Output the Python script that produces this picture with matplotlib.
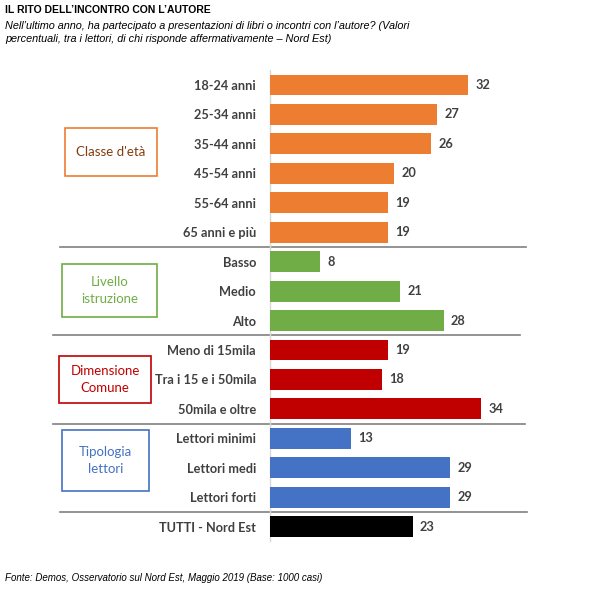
import matplotlib.pyplot as plt
from matplotlib.patches import Rectangle
from matplotlib.lines import Line2D
import matplotlib.transforms as mtransforms

# data
labels = ['18-24 anni', '25-34 anni', '35-44 anni', '45-54 anni', '55-64 anni', '65 anni e più',
          'Basso', 'Medio', 'Alto',
          'Meno di 15mila', 'Tra i 15 e i 50mila', '50mila e oltre',
          'Lettori minimi', 'Lettori medi', 'Lettori forti',
          'TUTTI - Nord Est']
values = [32, 27, 26, 20, 19, 19, 8, 21, 28, 19, 18, 34, 13, 29, 29, 23]
groups = ["Classe d'età", 'Livello\nistruzione', 'Dimensione\nComune', 'Tipologia\nlettori']
group_sizes = [6, 3, 3, 3, 1]
group_colors = ['#ED7D31', '#70AD47', '#C00000', '#4472C4', '#000000']
text_colors = ['#843C0C', '#70AD47', '#C00000', '#4472C4']

W, H = 600, 595
fig = plt.figure(figsize=(6, 5.95), dpi=100)

def fx(x):
    return x / W

def fy(y):
    return 1 - y / H

# axes placed in pixel terms
ax_left, ax_right = 270, 270 + 40 * 6.2
ax_top, ax_bot = 70.3, 541.4
ax = fig.add_axes([fx(ax_left), fy(ax_bot), (ax_right - ax_left) / W, (ax_bot - ax_top) / H])

colors = []
for c, n in zip(group_colors, group_sizes):
    colors += [c] * n

ypos = list(range(len(values)))
ax.barh(ypos, values, height=0.71, color=colors, zorder=3)
ax.set_ylim(len(values) - 0.5, -0.5)
ax.set_xlim(0, 40)
for s in ['top', 'right', 'bottom']:
    ax.spines[s].set_visible(False)
ax.spines['left'].set_color('#d9d9d9')
ax.spines['left'].set_linewidth(1)
ax.set_xticks([])
ax.set_yticks(ypos)
ax.set_yticklabels(labels, fontsize=9.2, color='#404040', fontweight='bold', family='Lato')
ax.tick_params(axis='y', length=0, pad=10)

for y, v in zip(ypos, values):
    ax.text(v + 1.2, y, str(v), va='center', ha='left', fontsize=9.2,
            fontweight='bold', color='#404040', family='Lato')

# separators between groups
trans = mtransforms.blended_transform_factory(fig.transFigure, ax.transData)
sep_x = [(60, 526), (53, 520), (53, 525), (60, 527)]
start = 0
for (x0, x1), n in zip(sep_x, group_sizes[:-1]):
    start += n
    ax.add_line(Line2D([fx(x0), fx(x1)], [start - 0.5, start - 0.5], transform=trans,
                       color='#808080', lw=1.2, clip_on=False))

# group boxes (pixel rectangles)
boxes = [(65, 128, 157, 176), (62, 264, 157, 317), (59, 356, 151, 403), (62, 430, 149, 491)]
for (x0, y0, x1, y1), g, ec, tc in zip(boxes, groups, group_colors, text_colors):
    fig.patches.append(Rectangle((fx(x0), fy(y1)), fx(x1 - x0), (y1 - y0) / H,
                                 transform=fig.transFigure, fill=False, ec=ec, lw=1.2))
    fig.text(fx((x0 + x1) / 2), fy((y0 + y1) / 2), g, ha='center', va='center',
             fontsize=9.5, color=tc, family='Lato', linespacing=1.45)

fig.text(fx(5), fy(10), "IL RITO DELL\u2019INCONTRO CON L\u2019AUTORE", fontsize=7.5,
         fontweight='bold', family='Liberation Sans', va='center', ha='left')
fig.text(fx(5), fy(32.5), "Nell\u2019ultimo anno, ha partecipato a presentazioni di libri o incontri con l\u2019autore? (Valori\n"
         "percentuali, tra i lettori, di chi risponde affermativamente \u2013 Nord Est)",
         fontsize=7.85, style='italic', family='Liberation Sans', va='center', ha='left', linespacing=1.3)
fig.text(fx(5), fy(578), "Fonte: Demos, Osservatorio sul Nord Est, Maggio 2019 (Base: 1000 casi)",
         fontsize=7, style='italic', family='Liberation Sans', va='center', ha='left')

fig.savefig('out.png', dpi=100)
